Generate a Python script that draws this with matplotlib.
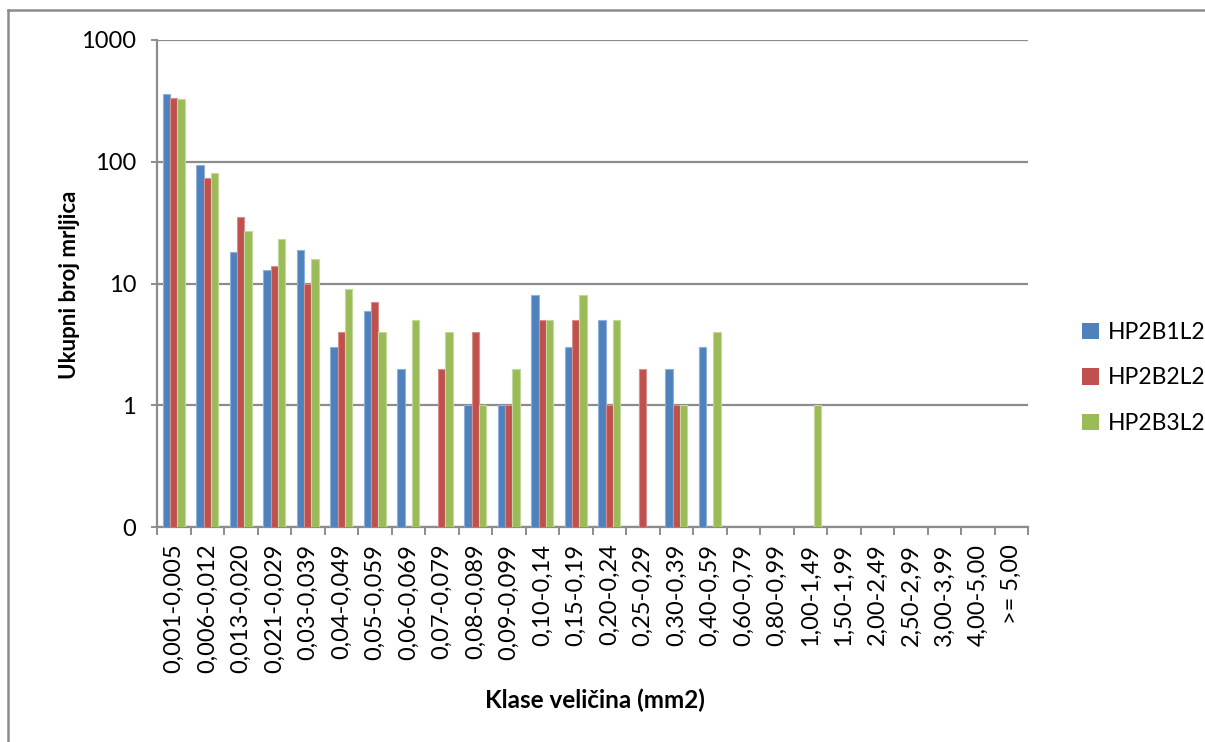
import numpy as np
import matplotlib.pyplot as plt
from matplotlib.lines import Line2D
from matplotlib.patches import Patch

plt.rcParams['font.family'] = ['Lato', 'DejaVu Sans']

categories = ['0,001-0,005', '0,006-0,012', '0,013-0,020', '0,021-0,029', '0,03-0,039',
              '0,04-0,049', '0,05-0,059', '0,06-0,069', '0,07-0,079', '0,08-0,089',
              '0,09-0,099', '0,10-0,14', '0,15-0,19', '0,20-0,24', '0,25-0,29',
              '0,30-0,39', '0,40-0,59', '0,60-0,79', '0,80-0,99', '1,00-1,49',
              '1,50-1,99', '2,00-2,49', '2,50-2,99', '3,00-3,99', '4,00-5,00', '>= 5,00']

nan = np.nan
hp2b1l2 = [358, 94, 18, 13, 19, 3, 6, 2, nan, 1, 1, 8, 3, 5, nan, 2, 3,
           nan, nan, nan, nan, nan, nan, nan, nan, nan]
hp2b2l2 = [337, 74, 35, 14, 10, 4, 7, nan, 2, 4, 1, 5, 5, 1, 2, 1, nan,
           nan, nan, nan, nan, nan, nan, nan, nan, nan]
hp2b3l2 = [330, 81, 27, 23, 16, 9, 4, 5, 4, 1, 2, 5, 8, 5, nan, 1, 4,
           nan, nan, 1, nan, nan, nan, nan, nan, nan]

series = ['HP2B1L2', 'HP2B2L2', 'HP2B3L2']
colors = ['#4F81BD', '#C0504D', '#9BBB59']
edges = ['#8FB0DA', '#DA8E8C', '#C3D99B']

fig = plt.figure(figsize=(12.05, 7.42), dpi=100)
W, H = 1205, 742
ax = fig.add_axes([157 / W, 1 - 527 / H, (1028 - 157) / W, (527 - 40) / H])

x = np.arange(len(categories))
bw = 0.222
base = 0.1
for k, (vals, c, ec) in enumerate(zip([hp2b1l2, hp2b2l2, hp2b3l2], colors, edges)):
    v = np.array(vals, dtype=float)
    m = ~np.isnan(v)
    ax.bar(x[m] + (k - 1) * bw, v[m] - base, bottom=base, width=bw,
           color=c, edgecolor=ec, linewidth=0.8, zorder=3)

ax.set_yscale('log')
ax.set_ylim(0.1, 1000)
ax.set_xlim(-0.5, len(categories) - 0.5)
ax.set_yticks([0.1, 1, 10, 100, 1000])
ax.set_yticklabels(['0', '1', '10', '100', '1000'])
ax.yaxis.set_minor_locator(plt.NullLocator())
ax.grid(axis='y', color='#8C8C8C', linewidth=1.6, zorder=0)

ax.set_xticks(x)
ax.set_xticklabels(categories, rotation=90)
ax.set_xticks(np.arange(len(categories) + 1) - 0.5, minor=True)
ax.tick_params(axis='x', which='major', length=0, pad=12, labelsize=17)
ax.tick_params(axis='x', which='minor', length=6, width=1.4, color='#8C8C8C', direction='out')
ax.tick_params(axis='y', length=4, width=1.4, color='#8C8C8C', pad=11, labelsize=17)

for s in ['top', 'right']:
    ax.spines[s].set_visible(False)
for s in ['left', 'bottom']:
    ax.spines[s].set_color('#8C8C8C')
    ax.spines[s].set_linewidth(1.6)

fig.text(70 / W, 1 - 285 / H, 'Ukupni broj mrljica', rotation=90, fontsize=16,
         fontweight='bold', ha='center', va='center')
fig.text(595 / W, 1 - 700 / H, 'Klase veličina (mm2)', fontsize=17.5,
         fontweight='bold', ha='center', va='center')

handles = [Patch(facecolor=c, edgecolor='none') for c in colors]
fig.legend(handles, series, loc='center left', bbox_to_anchor=(1071 / W, 1 - 378 / H),
           frameon=False, fontsize=16.5, handlelength=0.7, handleheight=0.7,
           handletextpad=0.4, labelspacing=1.05, borderpad=0)

# chart area border
fig.add_artist(Line2D([8 / W, 8 / W], [1 - 10 / H, 0], transform=fig.transFigure,
                      color='#8C8C8C', linewidth=1.8))
fig.add_artist(Line2D([8 / W, 1], [1 - 10 / H, 1 - 10 / H], transform=fig.transFigure,
                      color='#8C8C8C', linewidth=1.8))

fig.savefig('out.png', dpi=100)
